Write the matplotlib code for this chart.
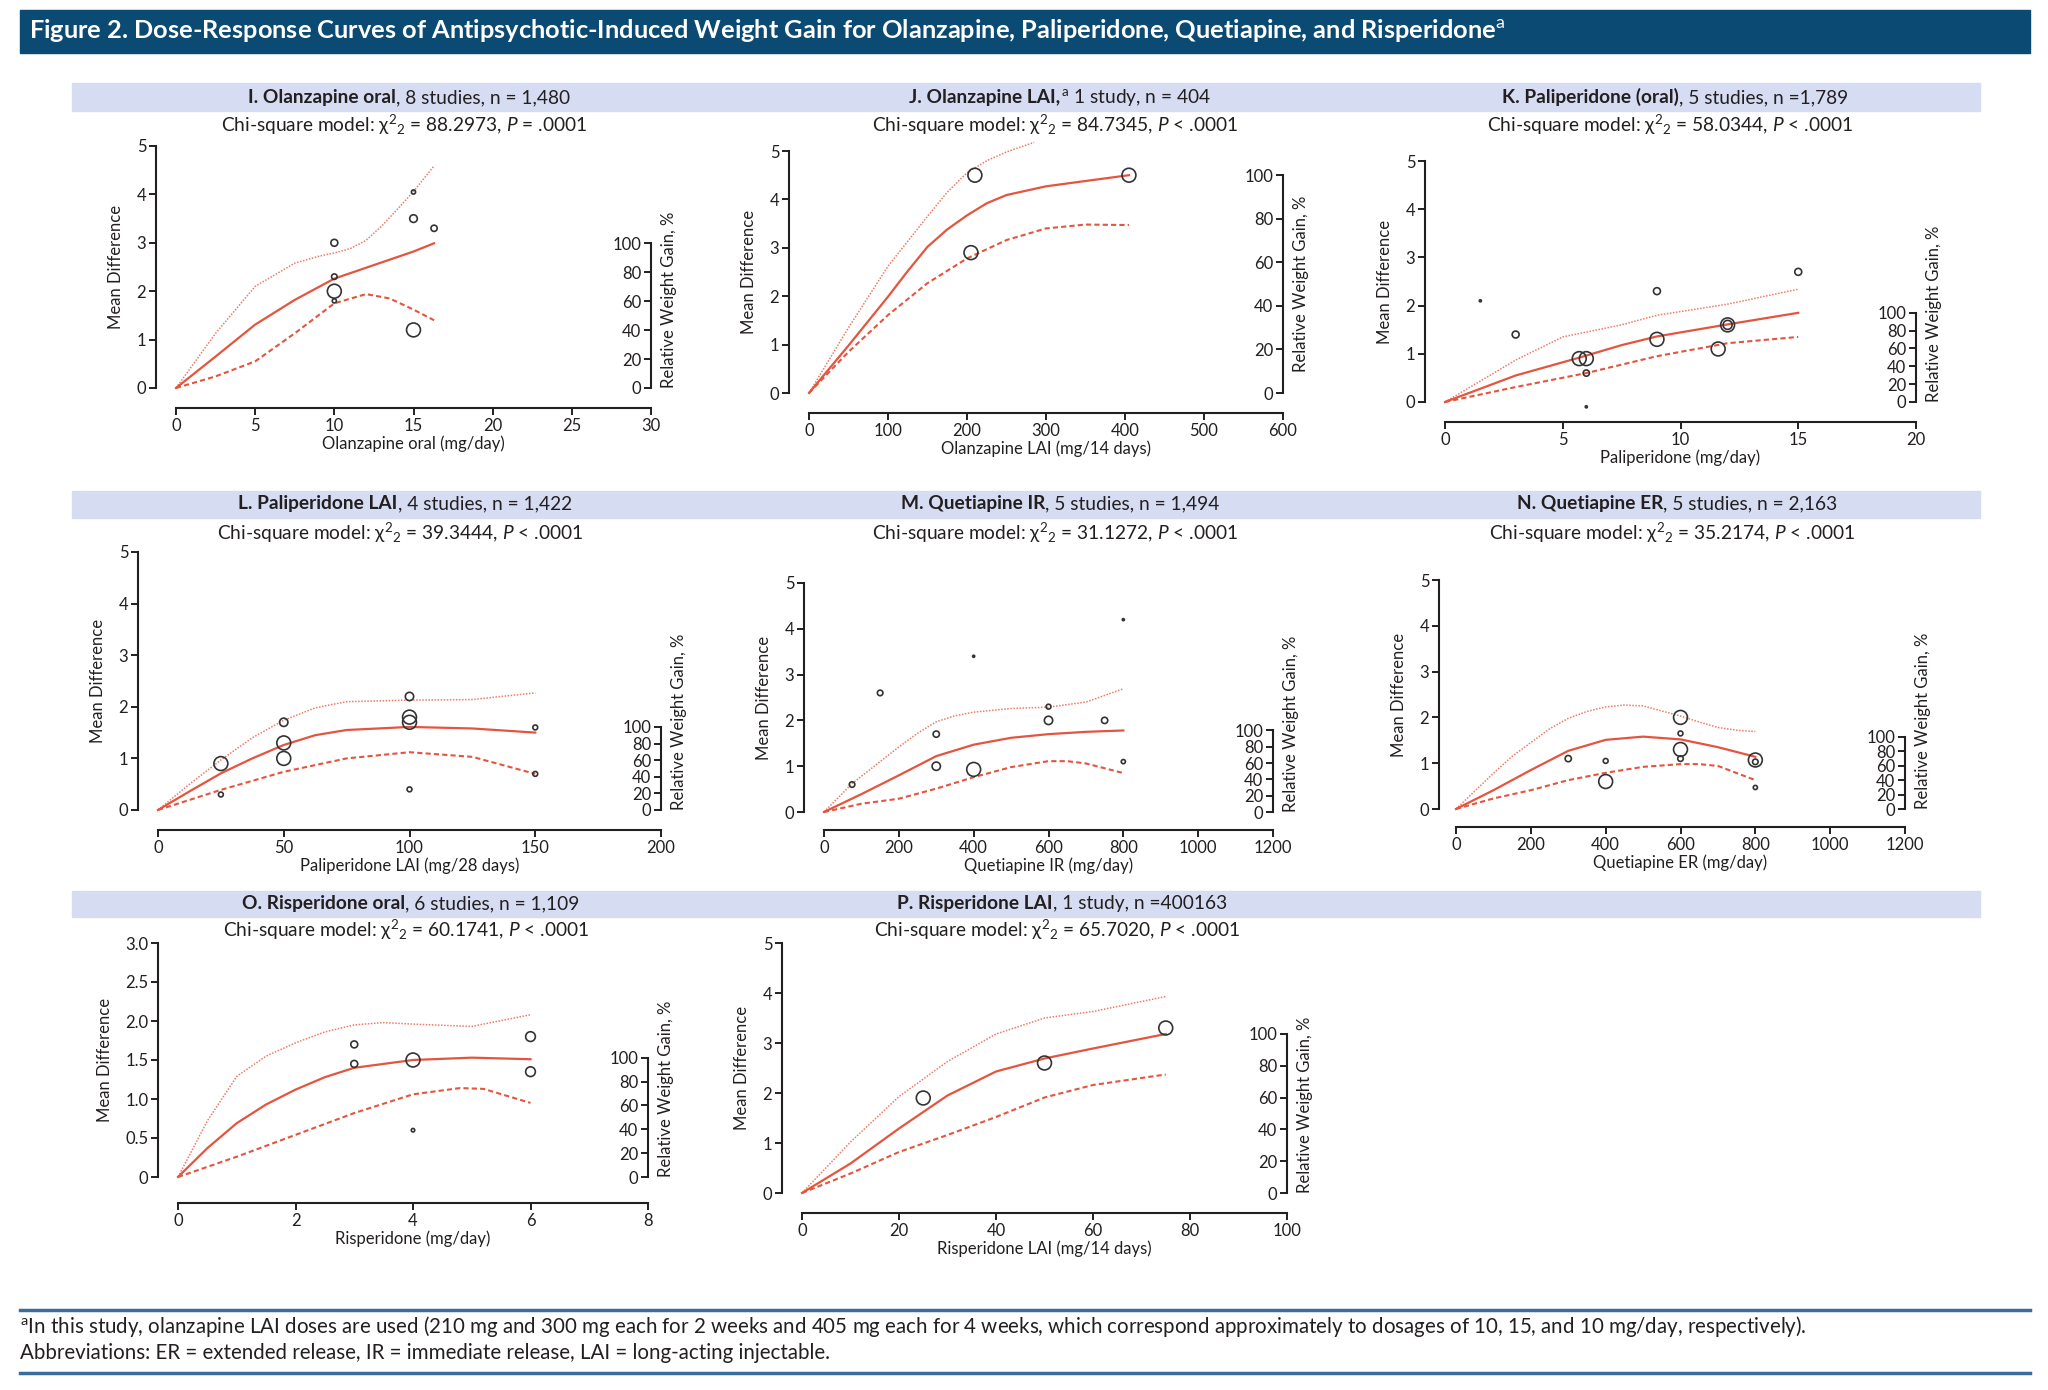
import matplotlib
matplotlib.use('Agg')
import matplotlib.pyplot as plt
import matplotlib.transforms as mtransforms
from matplotlib.patches import Rectangle
from matplotlib.lines import Line2D

plt.rcParams['font.family'] = ['Lato', 'DejaVu Sans']
plt.rcParams['mathtext.fontset'] = 'custom'
plt.rcParams['mathtext.rm'] = 'Lato'
plt.rcParams['mathtext.it'] = 'Lato:italic'
plt.rcParams['mathtext.bf'] = 'Lato:bold'

## ---- data ----
# I. Olanzapine oral
olz_oral_fit_x = [0, 2.5, 5, 7.5, 10, 12.5, 15, 16.3]
olz_oral_fit_y = [0, 0.65, 1.31, 1.82, 2.26, 2.54, 2.82, 2.99]
olz_oral_up_x = [0, 2.5, 5, 7.5, 9, 10, 11, 12, 13, 14, 15, 16.3]
olz_oral_up_y = [0, 1.13, 2.10, 2.58, 2.72, 2.79, 2.88, 3.05, 3.35, 3.70, 4.06, 4.59]
olz_oral_lo_x = [0, 2.5, 5, 7.5, 10, 12, 13.5, 15, 16.3]
olz_oral_lo_y = [0, 0.24, 0.55, 1.13, 1.75, 1.94, 1.85, 1.62, 1.40]
olz_oral_pt_x = [10, 10, 10, 10, 15, 15, 16.3, 15]
olz_oral_pt_y = [3.0, 2.3, 2.0, 1.8, 4.05, 3.5, 3.3, 1.2]
olz_oral_pt_s = [5, 4, 10, 3, 3, 5.5, 4.5, 10]

# J. Olanzapine LAI
olz_lai_fit_x = [0, 50, 100, 125, 150, 175, 200, 225, 250, 300, 350, 405]
olz_lai_fit_y = [0, 0.98, 1.99, 2.52, 3.02, 3.38, 3.67, 3.92, 4.09, 4.27, 4.38, 4.5]
olz_lai_up_x = [0, 50, 100, 150, 175, 200, 225, 250, 285]
olz_lai_up_y = [0, 1.35, 2.62, 3.65, 4.15, 4.55, 4.80, 4.98, 5.18]
olz_lai_lo_x = [0, 50, 100, 150, 200, 250, 300, 350, 405]
olz_lai_lo_y = [0, 0.85, 1.61, 2.27, 2.78, 3.16, 3.40, 3.48, 3.47]
olz_lai_pt_x = [210, 405, 205]
olz_lai_pt_y = [4.5, 4.5, 2.9]
olz_lai_pt_s = [10, 10, 10]

# K. Paliperidone oral
pal_oral_fit_x = [0, 3, 5.7, 7.5, 9, 12, 15]
pal_oral_fit_y = [0, 0.55, 0.92, 1.18, 1.36, 1.61, 1.85]
pal_oral_up_x = [0, 3, 5, 6, 7.5, 9, 12, 15]
pal_oral_up_y = [0, 0.87, 1.35, 1.45, 1.6, 1.8, 2.03, 2.34]
pal_oral_lo_x = [0, 3, 6, 9, 12, 15]
pal_oral_lo_y = [0, 0.31, 0.6, 0.95, 1.22, 1.35]
pal_oral_pt_x = [1.5, 3, 5.7, 6, 6, 6, 9, 9, 11.6, 12, 12, 15]
pal_oral_pt_y = [2.1, 1.4, 0.9, 0.9, 0.6, -0.1, 2.3, 1.3, 1.1, 1.6, 1.6, 2.7]
pal_oral_pt_s = [1.5, 5, 10, 10, 4.5, 1.5, 5, 10, 10, 10, 6.5, 5]

# L. Paliperidone LAI
pal_lai_fit_x = [0, 12.5, 25, 37.5, 50, 62.5, 75, 100, 125, 150]
pal_lai_fit_y = [0, 0.36, 0.71, 1.0, 1.26, 1.45, 1.55, 1.61, 1.58, 1.50]
pal_lai_up_x = [0, 12.5, 25, 37.5, 50, 62.5, 75, 100, 125, 150]
pal_lai_up_y = [0, 0.50, 0.97, 1.40, 1.74, 1.98, 2.10, 2.13, 2.14, 2.27]
pal_lai_lo_x = [0, 25, 50, 75, 100, 125, 150]
pal_lai_lo_y = [0, 0.39, 0.74, 1.0, 1.12, 1.03, 0.70]
pal_lai_pt_x = [25, 25, 50, 50, 50, 100, 100, 100, 100, 150, 150]
pal_lai_pt_y = [0.9, 0.3, 1.7, 1.3, 1.0, 2.2, 1.8, 1.7, 0.4, 1.6, 0.7]
pal_lai_pt_s = [10, 3.5, 6, 10, 10, 6, 10, 10, 3.5, 3.5, 3.5]

# M. Quetiapine IR
que_ir_fit_x = [0, 100, 200, 300, 400, 500, 600, 700, 800]
que_ir_fit_y = [0, 0.39, 0.80, 1.22, 1.47, 1.62, 1.70, 1.75, 1.78]
que_ir_up_x = [0, 75, 200, 250, 300, 350, 400, 500, 600, 700, 800]
que_ir_up_y = [0, 0.62, 1.42, 1.72, 1.97, 2.10, 2.18, 2.26, 2.29, 2.40, 2.69]
que_ir_lo_x = [0, 100, 200, 300, 400, 500, 600, 650, 700, 800]
que_ir_lo_y = [0, 0.18, 0.29, 0.51, 0.76, 0.98, 1.11, 1.11, 1.06, 0.85]
que_ir_pt_x = [75, 150, 300, 300, 400, 400, 600, 600, 750, 800, 800]
que_ir_pt_y = [0.6, 2.6, 1.7, 1.0, 3.4, 0.93, 2.3, 2.0, 2.0, 4.2, 1.1]
que_ir_pt_s = [4, 4, 4.5, 6, 1.5, 10, 3.5, 6, 4.5, 1.5, 3]

# N. Quetiapine ER
que_er_fit_x = [0, 100, 200, 300, 400, 500, 600, 700, 800]
que_er_fit_y = [0, 0.41, 0.85, 1.27, 1.51, 1.58, 1.52, 1.35, 1.14]
que_er_up_x = [0, 100, 150, 200, 250, 300, 350, 400, 450, 500, 600, 650, 700, 750, 800]
que_er_up_y = [0, 0.78, 1.15, 1.45, 1.75, 1.98, 2.13, 2.23, 2.27, 2.25, 2.03, 1.90, 1.78, 1.72, 1.69]
que_er_lo_x = [0, 100, 200, 300, 400, 500, 600, 650, 700, 800]
que_er_lo_y = [0, 0.23, 0.41, 0.63, 0.79, 0.92, 0.98, 0.98, 0.94, 0.63]
que_er_pt_x = [300, 400, 400, 600, 600, 600, 600, 800, 800, 800]
que_er_pt_y = [1.1, 1.05, 0.6, 2.0, 1.65, 1.3, 1.1, 1.07, 1.03, 0.47]
que_er_pt_s = [4.5, 3.5, 10, 10, 3.5, 10, 4, 10, 4, 3]

# O. Risperidone oral
ris_oral_fit_x = [0, 0.5, 1, 1.5, 2, 2.5, 3, 4, 5, 6]
ris_oral_fit_y = [0, 0.37, 0.69, 0.93, 1.12, 1.28, 1.40, 1.50, 1.53, 1.51]
ris_oral_up_x = [0, 0.5, 1, 1.5, 2, 2.5, 3, 3.5, 4, 5, 6]
ris_oral_up_y = [0, 0.72, 1.29, 1.55, 1.72, 1.86, 1.95, 1.98, 1.96, 1.93, 2.08]
ris_oral_lo_x = [0, 1, 2, 3, 4, 4.8, 5.2, 6]
ris_oral_lo_y = [0, 0.26, 0.54, 0.82, 1.06, 1.14, 1.13, 0.95]
ris_oral_pt_x = [3, 3, 4, 4, 6, 6]
ris_oral_pt_y = [1.7, 1.45, 1.5, 0.6, 1.8, 1.35]
ris_oral_pt_s = [5, 5, 10, 2.5, 7, 7]

# P. Risperidone LAI
ris_lai_fit_x = [0, 10, 20, 30, 40, 50, 60, 75]
ris_lai_fit_y = [0, 0.59, 1.29, 1.95, 2.43, 2.69, 2.89, 3.18]
ris_lai_up_x = [0, 10, 20, 30, 40, 50, 60, 75]
ris_lai_up_y = [0, 1.02, 1.93, 2.63, 3.18, 3.50, 3.63, 3.93]
ris_lai_lo_x = [0, 10, 20, 30, 40, 50, 60, 75]
ris_lai_lo_y = [0, 0.39, 0.82, 1.16, 1.52, 1.91, 2.16, 2.37]
ris_lai_pt_x = [25, 50, 75]
ris_lai_pt_y = [1.9, 2.6, 3.3]
ris_lai_pt_s = [10, 10, 10]

y5_ticks = [0, 1, 2, 3, 4, 5]
y3_ticks = [0, 0.5, 1.0, 1.5, 2.0, 2.5, 3.0]
y3_labels = ['0', '0.5', '1.0', '1.5', '2.0', '2.5', '3.0']
rwg_ticks = [0, 20, 40, 60, 80, 100]

title = ('Figure 2. Dose-Response Curves of Antipsychotic-Induced Weight Gain for '
         'Olanzapine, Paliperidone, Quetiapine, and Risperidone$^{\\mathrm{a}}$')
foot1 = ('$^{\\mathrm{a}}$In this study, olanzapine LAI doses are used (210 mg and 300 mg each for 2 weeks '
         'and 405 mg each for 4 weeks, which correspond approximately to dosages of 10, 15, and 10 mg/day, respectively).')
foot2 = 'Abbreviations: ER = extended release, IR = immediate release, LAI = long-acting injectable.'

## ---- figure ----
W, H = 2048, 1390
fig = plt.figure(figsize=(W / 100, H / 100), dpi=100)

def fx(p):
    return p / W

def fy(p):
    return 1 - p / H

RED = '#E4553F'
INK = '#231F20'
FS = 12

# title bar
fig.patches.append(Rectangle((fx(20), fy(53)), fx(2030) - fx(20), fy(10) - fy(53),
                             transform=fig.transFigure, color='#0B4A72', zorder=0))
fig.text(fx(29), fy(31), title, color='white', weight='bold', fontsize=18.3, va='center')

# panel header bars
for top, bot in [(83, 111), (491, 518), (891, 917)]:
    fig.patches.append(Rectangle((fx(72), fy(bot)), fx(1980) - fx(72), fy(top) - fy(bot),
                                 transform=fig.transFigure, color='#D6DDF3', zorder=0))

headers = []

def header(cx, y, bold, rest, chi_y, chi):
    t1 = fig.text(0, fy(y), bold, weight='bold', fontsize=13.8, va='baseline', color=INK)
    t2 = fig.text(0, fy(y), rest, fontsize=13.8, va='baseline', color=INK)
    headers.append((cx, t1, t2))
    fig.text(fx(cx - 5), fy(chi_y), chi, fontsize=13.8, va='baseline', ha='center', color=INK)


def panel(box, xmax, xticks, ymax, yticks, yticklabels, xlabel,
          fit_x, fit_y, up_x, up_y, lo_x, lo_y, pt_x, pt_y, pt_s, xoff=20, yoff=20):
    x0, x1, yb, yt = box
    ax = fig.add_axes([fx(x0), fy(yb), fx(x1) - fx(x0), fy(yt) - fy(yb)])
    ax.patch.set_visible(False)
    ax.set_xlim(0, xmax)
    ax.set_ylim(0, ymax)
    ax.spines['top'].set_visible(False)
    ax.spines['right'].set_visible(False)
    ax.spines['left'].set_position(('outward', xoff * 0.72))
    ax.spines['bottom'].set_position(('outward', yoff * 0.72))
    for s in ['left', 'bottom']:
        ax.spines[s].set_linewidth(1.5)
        ax.spines[s].set_color(INK)
    ax.set_xticks(xticks)
    ax.set_yticks(yticks)
    ax.set_yticklabels(yticklabels)
    ax.tick_params(length=5, width=1.4, color=INK, labelsize=FS, labelcolor=INK, pad=2)
    ax.set_xlabel(xlabel, fontsize=FS, color=INK, labelpad=1)
    ax.set_ylabel('Mean Difference', fontsize=FS, color=INK, labelpad=9)

    ax.plot(up_x, up_y, color='#EE7B68', lw=1.1, ls=(0, (1, 1)), clip_on=False)
    ax.plot(lo_x, lo_y, color=RED, lw=1.5, ls=(0, (2.5, 1.5)), clip_on=False)
    ax.plot(fit_x, fit_y, color=RED, lw=1.6, clip_on=False)
    ax.scatter(pt_x, pt_y, s=[v ** 2 for v in pt_s], facecolors='none',
               edgecolors='#333333', linewidths=1.2, clip_on=False, zorder=5)

    # relative weight gain axis: 100% = top of the fitted curve
    h = (fy(yt) - fy(yb)) * max(fit_y) / ymax
    ax2 = fig.add_axes([fx(x1), fy(yb), 0.0004, h])
    ax2.patch.set_visible(False)
    for s in ['top', 'right', 'bottom']:
        ax2.spines[s].set_visible(False)
    ax2.spines['left'].set_linewidth(1.5)
    ax2.spines['left'].set_color(INK)
    ax2.set_ylim(0, 100)
    ax2.set_xticks([])
    ax2.set_yticks(rwg_ticks)
    ax2.tick_params(length=5, width=1.4, color=INK, labelsize=FS, labelcolor=INK, pad=2)
    tr = mtransforms.offset_copy(ax2.transAxes, fig=fig, x=7, y=0, units='points')
    if h * H > 185:
        ax2.text(0, 0.5, 'Relative Weight Gain, %', rotation=90, transform=tr,
                 ha='left', va='center', fontsize=FS, color=INK)
    else:
        ax2.text(0, 0, 'Relative Weight Gain, %', rotation=90, transform=tr,
                 ha='left', va='bottom', fontsize=FS, color=INK)
    return ax


panel((176, 651, 388, 146), 30, range(0, 31, 5), 5, y5_ticks, y5_ticks, 'Olanzapine oral (mg/day)',
      olz_oral_fit_x, olz_oral_fit_y, olz_oral_up_x, olz_oral_up_y, olz_oral_lo_x, olz_oral_lo_y,
      olz_oral_pt_x, olz_oral_pt_y, olz_oral_pt_s)
panel((809, 1283, 393, 151), 600, range(0, 601, 100), 5, y5_ticks, y5_ticks, 'Olanzapine LAI (mg/14 days)',
      olz_lai_fit_x, olz_lai_fit_y, olz_lai_up_x, olz_lai_up_y, olz_lai_lo_x, olz_lai_lo_y,
      olz_lai_pt_x, olz_lai_pt_y, olz_lai_pt_s)
panel((1445, 1916, 402, 161), 20, range(0, 21, 5), 5, y5_ticks, y5_ticks, 'Paliperidone (mg/day)',
      pal_oral_fit_x, pal_oral_fit_y, pal_oral_up_x, pal_oral_up_y, pal_oral_lo_x, pal_oral_lo_y,
      pal_oral_pt_x, pal_oral_pt_y, pal_oral_pt_s)
panel((158, 661, 810, 552), 200, range(0, 201, 50), 5, y5_ticks, y5_ticks, 'Paliperidone LAI (mg/28 days)',
      pal_lai_fit_x, pal_lai_fit_y, pal_lai_up_x, pal_lai_up_y, pal_lai_lo_x, pal_lai_lo_y,
      pal_lai_pt_x, pal_lai_pt_y, pal_lai_pt_s)
panel((824, 1273, 812, 583), 1200, range(0, 1201, 200), 5, y5_ticks, y5_ticks, 'Quetiapine IR (mg/day)',
      que_ir_fit_x, que_ir_fit_y, que_ir_up_x, que_ir_up_y, que_ir_lo_x, que_ir_lo_y,
      que_ir_pt_x, que_ir_pt_y, que_ir_pt_s, yoff=18)
panel((1456, 1905, 809, 580), 1200, range(0, 1201, 200), 5, y5_ticks, y5_ticks, 'Quetiapine ER (mg/day)',
      que_er_fit_x, que_er_fit_y, que_er_up_x, que_er_up_y, que_er_lo_x, que_er_lo_y,
      que_er_pt_x, que_er_pt_y, que_er_pt_s, xoff=17, yoff=18)
panel((178, 648, 1177, 943), 8, range(0, 9, 2), 3, y3_ticks, y3_labels, 'Risperidone (mg/day)',
      ris_oral_fit_x, ris_oral_fit_y, ris_oral_up_x, ris_oral_up_y, ris_oral_lo_x, ris_oral_lo_y,
      ris_oral_pt_x, ris_oral_pt_y, ris_oral_pt_s, yoff=26)
panel((802, 1287, 1193, 943), 100, range(0, 101, 20), 5, y5_ticks, y5_ticks, 'Risperidone LAI (mg/14 days)',
      ris_lai_fit_x, ris_lai_fit_y, ris_lai_up_x, ris_lai_up_y, ris_lai_lo_x, ris_lai_lo_y,
      ris_lai_pt_x, ris_lai_pt_y, ris_lai_pt_s)


def chi_text(v, op):
    return 'Chi-square model: \u03c7$^{2}{}_{2}$ = ' + v + ', $\\mathit{P}$ ' + op + ' .0001'


header(409, 103, 'I. Olanzapine oral', ', 8 studies, n = 1,480', 132, chi_text('88.2973', '='))
header(1060, 103, 'J. Olanzapine LAI,', '$^{\\mathrm{a}}$ 1 study, n = 404', 132, chi_text('84.7345', '<'))
header(1675, 103, 'K. Paliperidone (oral)', ', 5 studies, n =1,789', 132, chi_text('58.0344', '<'))
header(405, 509, 'L. Paliperidone LAI', ', 4 studies, n = 1,422', 540, chi_text('39.3444', '<'))
header(1060, 509, 'M. Quetiapine IR', ', 5 studies, n = 1,494', 540, chi_text('31.1272', '<'))
header(1677, 509, 'N. Quetiapine ER', ', 5 studies, n = 2,163', 540, chi_text('35.2174', '<'))
header(411, 909, 'O. Risperidone oral', ', 6 studies, n = 1,109', 937, chi_text('60.1741', '<'))
header(1062, 909, 'P. Risperidone LAI', ', 1 study, n =400163', 937, chi_text('65.7020', '<'))

# centre the two-part headers
fig.canvas.draw()
r = fig.canvas.get_renderer()
for cx, t1, t2 in headers:
    w1 = t1.get_window_extent(r).width
    w2 = t2.get_window_extent(r).width
    start = cx - (w1 + w2) / 2
    t1.set_x(fx(start))
    t2.set_x(fx(start + w1))

# footnote
for yl in [1310, 1373]:
    fig.lines.append(Line2D([fx(20), fx(2030)], [fy(yl), fy(yl)], transform=fig.transFigure,
                            color='#3B6D9C', lw=2.5))
fig.text(fx(20), fy(1333), foot1, fontsize=14.8, va='baseline', color=INK)
fig.text(fx(20), fy(1359), foot2, fontsize=14.8, va='baseline', color=INK)

fig.savefig('out.png', dpi=100, facecolor='white')
